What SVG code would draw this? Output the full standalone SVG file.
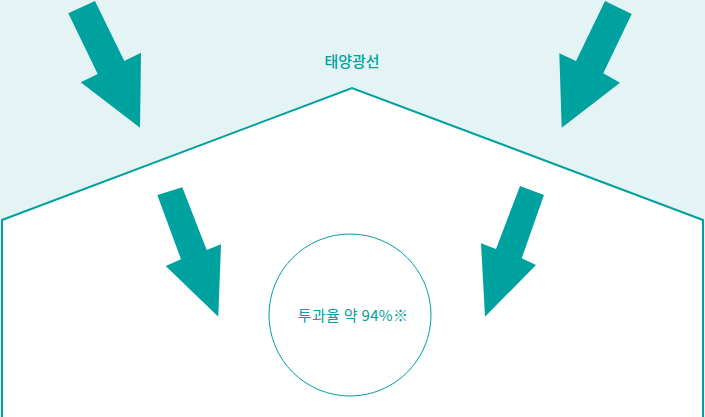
<svg xmlns="http://www.w3.org/2000/svg" width="705" height="417" viewBox="0 0 705 417">
<style>
.arrow{fill:#00A29F}
.lbl{font-family:"Noto Sans CJK KR","Noto Sans",sans-serif;fill:#00A0A0;text-anchor:middle}
</style>
<rect x="0" y="0" width="705" height="417" fill="#E4F4F4"/>
<g id="house">
<polygon points="2,418 2,220 352,88 703,220 703,418" fill="#FFFFFF" stroke="#00A0A0" stroke-width="2"/>
</g>
<g id="circle">
<circle cx="350" cy="315" r="81" fill="none" stroke="#00A0A0" stroke-width="1"/>
<text class="lbl" x="353" y="321" font-size="15" letter-spacing="0.3">투과율 약 94%※</text>
</g>
<g id="title">
<text class="lbl" x="352" y="67" font-size="15" font-weight="500">태양광선</text>
</g>
<g id="arrows">
<polygon class="arrow" points="68.3,13.3 95,1 124.3,61 141,52.7 140,127.7 80.7,82.3 97.7,74"/>
<polygon class="arrow" points="605,1 631.7,14 603.3,73.3 620,82.7 561.7,127.7 559.3,53.3 576,61"/>
<polygon class="arrow" points="157.3,195 182.3,187.3 206.7,250 221,244.3 218.3,316.7 165.7,266 181,259.3"/>
<polygon class="arrow" points="520,186 544,195 521.7,258.3 536,265 485,316.7 481,243.3 496,249"/>
</g>
</svg>
